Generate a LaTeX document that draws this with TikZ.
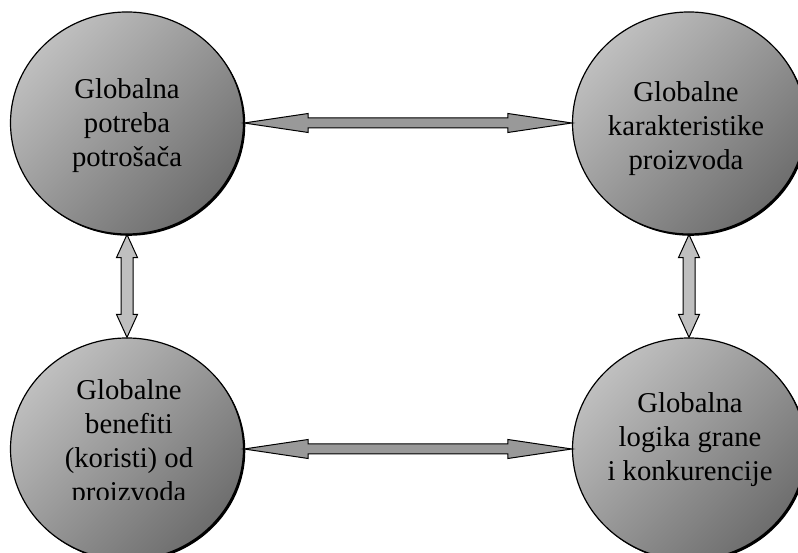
\documentclass[tikz,border=0pt]{standalone}
\usepackage{fontspec}
\setmainfont{Liberation Serif}
\usetikzlibrary{shapes.geometric, calc, shadows}

\newcommand{\twohead}[6]{%
  \draw[#6] (#1) -- ($(#1)!#5!(#2)!#4!90:(#2)$) -- ($(#1)!#5!(#2)!#3!90:(#2)$)
    -- ($(#2)!#5!(#1)!#3!-90:(#1)$) -- ($(#2)!#5!(#1)!#4!-90:(#1)$) -- (#2)
    -- ($(#2)!#5!(#1)!#4!90:(#1)$) -- ($(#2)!#5!(#1)!#3!90:(#1)$)
    -- ($(#1)!#5!(#2)!#3!-90:(#2)$) -- ($(#1)!#5!(#2)!#4!-90:(#2)$) -- cycle;}

\begin{document}
\begin{tikzpicture}[x=1pt, y=1pt,
  every node/.style = {align=center, font=\fontsize{28.7}{34}\selectfont},
  globe/.style = {ellipse, draw, line width=1.2pt, minimum width=233pt,
    minimum height=222pt, inner sep=0pt,
    top color=gray!50, bottom color=black!57, shading angle=45,
    drop shadow={shadow xshift=1.8pt, shadow yshift=-1.8pt, opacity=1, fill=black}},
  wide/.style = {line width=1pt, fill=gray!80},
  tall/.style = {line width=1pt, fill=gray!50}]
  \path[use as bounding box, fill=white] (0,0) rectangle (798,553);

  \node[globe] (tl) at (127,430) {};
  \node[globe] (tr) at (689,430) {};
  \node[globe] (bl) at (127,104) {};
  \node[globe] (br) at (689,104) {};

  \node (tltext) at ([yshift=-3pt]tl) {Globalna\\potreba\\potrošača};
  \node (trtext) at ([shift={(-3pt,-6pt)}]tr) {Globalne\\karakteristike\\proizvoda};
  \begin{scope}
    \clip (0,53) rectangle (400,553);
    \node (bltext) at ([shift={(2pt,5pt)}]bl) {Globalne\\benefiti\\(koristi) od\\proizvoda};
  \end{scope}
  \node (brtext) at ([shift={(1pt,9pt)}]br) {Globalna\\logika grane\\i konkurencije};

  \twohead{tl.east}{tr.west}{5pt}{9.5pt}{64pt}{wide}
  \twohead{bl.east}{br.west}{5pt}{9.5pt}{64pt}{wide}
  \twohead{tl.south}{bl.north}{6pt}{10.5pt}{23pt}{tall}
  \twohead{tr.south}{br.north}{6pt}{10.5pt}{23pt}{tall}
\end{tikzpicture}
\end{document}
